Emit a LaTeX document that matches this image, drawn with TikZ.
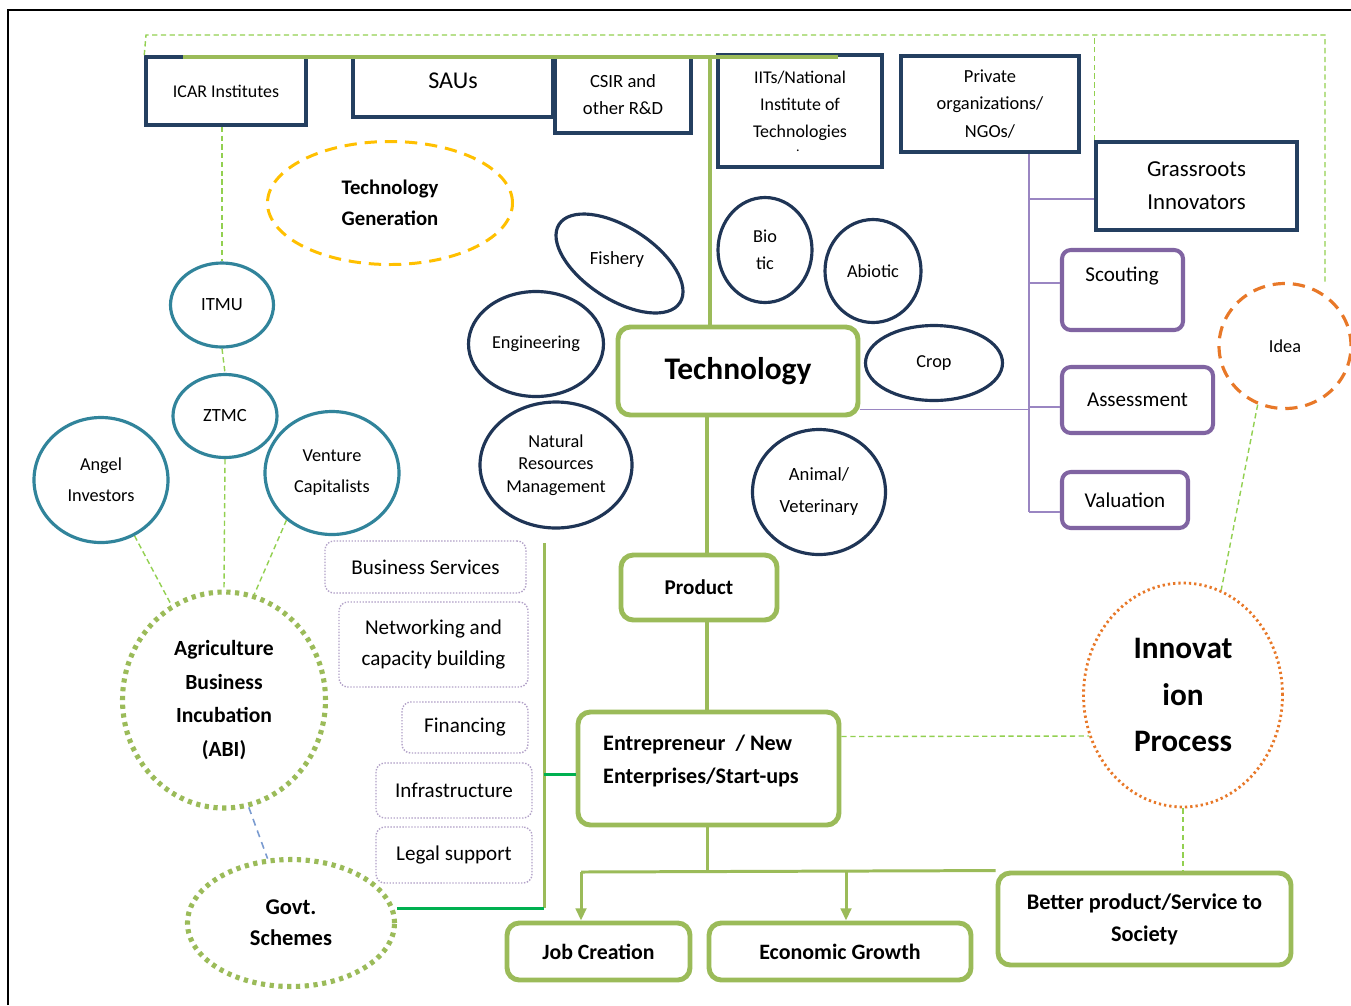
\documentclass[tikz,border=0pt]{standalone}
\usepackage{fontspec}
\setmainfont{Carlito}
\usetikzlibrary{shapes.geometric,arrows.meta,calc}
\definecolor{cNavy}{HTML}{243F60}
\definecolor{cNavyD}{HTML}{1F3556}
\definecolor{cTeal}{HTML}{31849B}
\definecolor{cOlive}{HTML}{9BBB59}
\definecolor{cGreen}{HTML}{00B050}
\definecolor{cPurple}{HTML}{8064A2}
\definecolor{cPurpleL}{HTML}{9A86C2}
\definecolor{cLav}{HTML}{B1A0C7}
\definecolor{cOrange}{HTML}{E87828}
\definecolor{cGold}{HTML}{FFC000}
\definecolor{cLime}{HTML}{92D050}
\definecolor{cBlue}{HTML}{7A9BD0}
\begin{document}
\begin{tikzpicture}[x=0.02cm,y=-0.02cm,
  wh/.style 2 args={minimum width=#1*0.02cm,minimum height=#2*0.02cm},
  nbox/.style={rectangle,draw=cNavy,line width=2pt,fill=white,inner sep=0pt,align=center},
  gbox/.style={rectangle,draw=cOlive,line width=2.8pt,rounded corners=7pt,fill=white,inner sep=0pt,align=center},
  pbox/.style={rectangle,draw=cPurple,line width=2.3pt,rounded corners=5pt,fill=white,inner sep=0pt,font=\fontsize{12}{15}\selectfont},
  dbox/.style={rectangle,draw=cLav,line width=0.8pt,dash pattern=on 0.8pt off 0.9pt,rounded corners=5pt,inner sep=0pt,align=center,font=\fontsize{12}{17.6}\selectfont},
  nell/.style={ellipse,draw=cNavyD,line width=1.8pt,inner sep=0pt,align=center,font=\fontsize{10.4}{15.4}\selectfont},
  tell/.style={ellipse,draw=cTeal,line width=1.8pt,inner sep=0pt,align=center,font=\fontsize{10.4}{17.6}\selectfont},
  gdot/.style={ellipse,draw=cOlive,line width=2.9pt,dash pattern=on 2.4pt off 2.6pt,inner sep=0pt,align=center},
  gdash/.style={draw=cLime,line width=0.8pt,dash pattern=on 3pt off 2pt},
  bdash/.style={draw=cBlue,line width=0.9pt,dash pattern=on 4pt off 3pt},
  plink/.style={draw=cPurpleL,line width=1.1pt},
  olink/.style={draw=cOlive,line width=2.3pt},
  arr/.style={draw=cOlive,line width=1.7pt,-{Triangle[length=7pt,width=6pt]}}
]
\useasboundingbox (0,0) rectangle (1351,1005);
\fill[white] (0,0) rectangle (1351,1005);
% frame (top and left visible)
\draw[black,line width=1.7pt] (8,1005) -- (8,10) -- (1351,10);

% ---- top row boxes
\node[nbox,wh={160}{68},font=\fontsize{10.2}{15.4}\selectfont] (icar) at (226,91) {ICAR Institutes};
\node[nbox,wh={200}{60}] (sau) at (453,87) {};
\node[font=\fontsize{13.7}{16}\selectfont] (saut) at (453,81) {SAUs};
\node[nbox,wh={136}{76},font=\fontsize{10.6}{15.4}\selectfont] (csir) at (623,95) {CSIR and\\other R\&D};
\node[nbox,wh={164}{112}] (iit) at (800,111) {};
\node[align=center,inner sep=0pt,font=\fontsize{10.2}{15.4}\selectfont] (iitt) at (800,106) {IITs/National\\Institute of\\Technologies};
\node[inner sep=0pt,font=\fontsize{8}{9}\selectfont] (iitdot) at (798,151) {.};
\node[nbox,wh={178}{96},font=\fontsize{10.5}{15.4}\selectfont] (priv) at (990,104) {Private\\organizations/\\NGOs/};
\node[nbox,wh={201}{88},font=\fontsize{13}{18.8}\selectfont] (grass) at (1196.5,186) {Grassroots\\Innovators};

% ---- technology generation
\node[ellipse,draw=cGold,line width=1.7pt,dash pattern=on 7pt off 4.5pt,wh={245}{123},inner sep=0pt,align=center,font=\bfseries\fontsize{11.8}{17.6}\selectfont] (tgen) at (390,203) {Technology\\Generation};

% ---- teal circles
\node[tell,wh={103}{84},font=\fontsize{10.6}{15}\selectfont] (itmu) at (222,305) {ITMU};
\node[tell,wh={104}{83},font=\fontsize{10.6}{15}\selectfont] (ztmc) at (225,416) {ZTMC};
\node[tell,wh={134}{125}] (angel) at (101,480) {Angel\\Investors};
\node[tell,wh={134}{123}] (vent) at (332,473) {Venture\\Capitalists};

% ---- navy ellipses
\node[nell,wh={144}{72},rotate=-33] (fish) at (619.5,263.5) {};
\node[font=\fontsize{10.6}{15}\selectfont] (fisht) at (617,260) {Fishery};
\node[nell,wh={135}{105}] (eng) at (536,344) {Engineering};
\node[nell,wh={152}{126},font=\fontsize{10.4}{12.8}\selectfont] (nrm) at (556,465) {Natural\\Resources\\Management};
\node[nell,wh={94}{105}] (bio) at (765,250) {Bio\\tic};
\node[nell,wh={96}{103}] (abio) at (873,271) {Abiotic};
\node[nell,wh={137}{75}] (crop) at (934,363) {Crop};
\node[nell,wh={133}{125},font=\fontsize{10.6}{18.2}\selectfont] (anim) at (819,492) {Animal/\\Veterinary};

% ---- technology chain
\node[gbox,wh={240}{88},font=\bfseries\fontsize{17.9}{20}\selectfont] (tech) at (738,371) {Technology};
\node[gbox,wh={156}{65},font=\bfseries\fontsize{12}{15}\selectfont] (prod) at (699,587.5) {Product};
\node[gbox,wh={261}{113}] (ent) at (708.5,768.5) {};
\node[anchor=west,align=left,font=\bfseries\fontsize{12.6}{18.8}\selectfont] (entt) at (597,760.5) {Entrepreneur\ \ / New\\Enterprises/Start-ups};
\node[gbox,wh={183}{57},font=\bfseries\fontsize{12.4}{15}\selectfont] (job) at (598.5,951.5) {Job Creation};
\node[gbox,wh={262}{57},font=\bfseries\fontsize{12.5}{15}\selectfont] (eco) at (840,951.5) {Economic Growth};
\node[gbox,wh={293}{92},font=\bfseries\fontsize{12.7}{18.2}\selectfont] (better) at (1144.5,919) {Better product/Service to\\Society};

% ---- purple boxes
\node[pbox,wh={121}{80}] (scout) at (1122.5,290) {};
\node[font=\fontsize{12}{15}\selectfont] (scoutt) at (1122,276) {Scouting};
\node[pbox,wh={151}{66}] (assess) at (1137.5,400) {Assessment};
\node[pbox,wh={126}{56}] (val) at (1125,500) {Valuation};

% ---- orange
\node[ellipse,draw=cOrange,line width=1.8pt,dash pattern=on 7pt off 4.5pt,wh={132}{125},inner sep=0pt,font=\fontsize{10.4}{12}\selectfont] (idea) at (1285,346) {Idea};
\node[ellipse,draw=cOrange,line width=1.6pt,dash pattern=on 1.3pt off 1.7pt,wh={199}{224},inner sep=0pt,align=center,font=\bfseries\fontsize{17.8}{26.5}\selectfont] (innov) at (1183,695) {Innovat\\ion\\Process};

% ---- support services
\node[dbox,wh={201}{52}] (bs) at (425.5,567) {Business Services};
\node[dbox,wh={189}{85}] (net) at (433.5,644.5) {Networking and\\capacity building};
\node[dbox,wh={126}{51}] (fin) at (465,727.5) {Financing};
\node[dbox,wh={156}{55}] (infra) at (454,790.5) {Infrastructure};
\node[dbox,wh={156}{56}] (legal) at (454,855) {Legal support};

% ---- ABI and Govt
\node[gdot,wh={203}{216},font=\bfseries\fontsize{12.3}{19.3}\selectfont] (abi) at (224,700) {Agriculture\\Business\\Incubation\\(ABI)};
\node[gdot,wh={207}{127},font=\bfseries\fontsize{12.8}{17.6}\selectfont] (govt) at (291,923) {Govt.\\Schemes};

% ================= connectors
% outer dashed frame
\coordinate (tl) at (146,35);
\coordinate (tr) at (1325,35);
\draw[gdash] (icar.north west) -- (tl) -- (tr) -- (tr |- idea.north);
\draw[gdash] (grass.north west) -- (grass.north west |- tl);

% green bus at top
\coordinate (busL) at (183,57);
\coordinate (busR) at (838,57);
\coordinate (busT) at (710,57);
\draw[olink] (busL) -- (busR);
\draw[draw=cOlive,line width=2.8pt] (busT) -- (busT |- tech.north);

% vertical chain
\coordinate (vx) at (707,0);
\coordinate (lbL) at (581,872);
\coordinate (lbE) at (846,872);
\draw[olink] (tech.south -| vx) -- (prod.north -| vx);
\draw[olink] (prod.south -| vx) -- (ent.north -| vx);
\draw[draw=cOlive,line width=1.7pt] (ent.south -| vx) -- (vx |- lbL);
\draw[draw=cOlive,line width=1.7pt] (lbL) -- (better.north west);
\draw[arr] (lbL) -- (job.north -| lbL);
\draw[arr] (lbE) -- (eco.north -| lbE);

% support line
\coordinate (vt) at (544,543);
\coordinate (vb) at (544,908);
\coordinate (ce) at ($(ent.west)+(0,6)$);
\draw[draw=cOlive,line width=1.7pt] (vt) -- (vb);
\draw[draw=cGreen,line width=1.7pt] (vb -| govt.east) -- (vb);
\draw[draw=cGreen,line width=1.7pt] (vt |- ce) -- (ce);

% purple tree
\coordinate (px) at (1029,0);
\coordinate (cGrass) at ($(grass.west)+(0,13)$);
\coordinate (cScout) at ($(scout.west)+(0,-7)$);
\coordinate (cAss) at ($(assess.west)+(0,7)$);
\coordinate (cVal) at ($(val.west)+(0,12)$);
\coordinate (cTech) at ($(tech.south east)+(0,-8)$);
\draw[plink] (priv.south -| px) -- (px |- cVal);
\draw[plink] (px |- cGrass) -- (cGrass);
\draw[plink] (px |- cScout) -- (cScout);
\draw[plink] (px |- cAss) -- (cAss);
\draw[plink] (px |- cVal) -- (cVal);
\draw[plink] (cTech) -- (px |- cTech);

% dashed links on the left
\draw[gdash] (icar.south -| itmu) -- (itmu.north);
\draw[gdash] (itmu.south) -- (ztmc.north);
\draw[gdash] (ztmc.south) -- (abi.north);
\draw[gdash] (angel.-59) -- (abi.119);
\draw[gdash] (vent.-134) -- (abi.74);
\draw[bdash] (abi.-77) -- (govt.110);

% dashed links on the right
\coordinate (ceR) at ($(ent.east)+(0,-32)$);
\coordinate (ciL) at ($(innov.west)+(7,41)$);
\draw[gdash] (ceR) -- (ciL);
\draw[gdash] (idea.-115) -- (innov.70);
\draw[gdash] (innov.south) -- (innov.south |- better.north);
\end{tikzpicture}
\end{document}
